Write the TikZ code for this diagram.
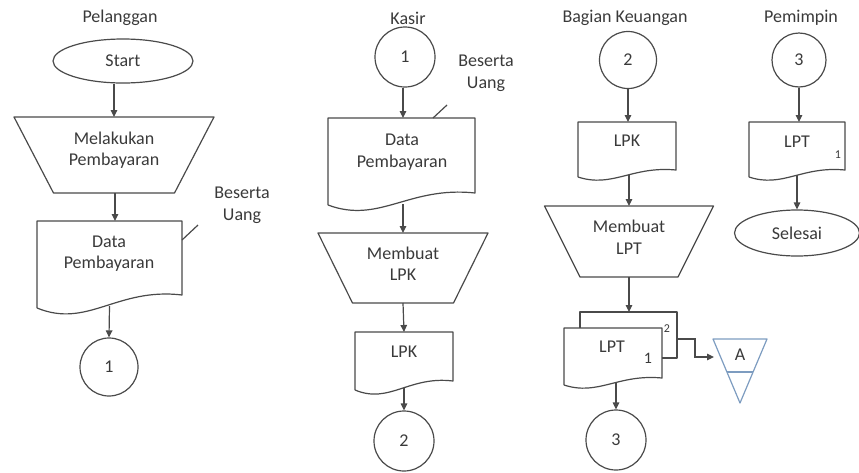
\documentclass[tikz,border=0pt]{standalone}
\usepackage{fontspec}
\setmainfont{Carlito}
\usetikzlibrary{shapes.geometric,arrows.meta,calc}
\definecolor{txtc}{HTML}{3A3A3A}
\definecolor{linec}{HTML}{4A4A4A}
\definecolor{triblue}{HTML}{7D9CC0}
\tikzset{
  txt/.style={font=\fontsize{18}{21.5}\selectfont, text=txtc, align=center, inner sep=0pt},
  smalltxt/.style={font=\fontsize{12}{14}\selectfont, text=txtc, inner sep=0pt},
  shp/.style={draw=linec, line width=1.2pt, line join=round},
  box/.style={draw=none, rectangle, inner sep=0pt, outer sep=0pt},
  arr/.style={draw=linec, line width=1.2pt, -{Triangle[length=7pt,width=6.5pt]}},
  conn/.style={draw=linec, line width=1.2pt},
  term/.style={ellipse, draw=linec, line width=1.2pt, inner sep=0pt, text=txtc, font=\fontsize{18}{21.5}\selectfont},
  conncirc/.style={circle, draw=linec, line width=1.2pt, inner sep=0pt, text=txtc, font=\fontsize{18}{21.5}\selectfont},
}
% document shape: name, left, top, right, yLeftBottom, yRightBottom
\newcommand\docshape[6]{%
  \node[box, anchor=north west, minimum width={(#4-#2)*1pt}, minimum height={(#5-#3)*1pt}] (#1) at (#2,#3) {};
  \draw[shp] (#2,#5) -- (#2,#3) -- (#4,#3) -- (#4,#6)
    .. controls ({#2+0.55*(#4-#2)},{#6-0.6*(#5-#6)}) and ({#2+0.35*(#4-#2)},{#5+1.6*(#5-#6)}) .. (#2,#5);
}
% manual operation: name, centre x, top, top width, bottom y, bottom width
\newcommand\trapshape[6]{%
  \node[box, anchor=north, minimum width={#4*1pt}, minimum height={(#5-#3)*1pt}] (#1) at (#2,#3) {};
  \draw[shp] (#1.north west) -- (#1.north east) -- ($(#1.south east)+({-(#4-#6)/2},0)$)
    -- ($(#1.south west)+({(#4-#6)/2},0)$) -- cycle;
}
\begin{document}
\begin{tikzpicture}[x=1pt,y=-1pt]
\useasboundingbox (0,0) rectangle (859,472);

% ---------- column titles
\node[txt] (h1) at (120,18) {Pelanggan};
\node[txt] (h2) at (408,18) {Kasir};
\node[txt] (h3) at (625,18) {Bagian Keuangan};
\node[txt] (h4) at (801,18) {Pemimpin};

% ---------- Pelanggan
\node[term, minimum width=140pt, minimum height=44pt] (start) at (123,61) {Start};
\trapshape{t1}{114}{117}{200}{193}{121}
\node[txt] (t1t) at (114,150) {Melakukan\\Pembayaran};
\docshape{d1}{37}{221}{182}{308}{295}
\node[txt] (d1t) at (109,253.5) {Data\\Pembayaran};
\coordinate (an1) at (198,225);
\draw[conn] ($(d1.north east)+(0,19)$) -- (an1);
\node[txt] (bu1) at (242,205.5) {Beserta\\Uang};
\node[conncirc, minimum size=58pt] (c1a) at (109,367) {1};
\draw[arr] (start.south -| t1.north) -- (t1.north);
\draw[arr] ($(t1.south)+(1,0)$) -- ($(d1.north)+(5.5,0)$);
\draw[arr] ($(d1.south)+(0,-2)$) -- (c1a.north);

% ---------- Kasir
\node[conncirc, minimum size=60pt] (c1b) at (405,57) {1};
\docshape{d2}{328}{118}{475}{205}{193}
\node[txt] (d2t) at (402,152) {Data\\Pembayaran};
\coordinate (an2) at (447,105);
\draw[conn] ($(d2.north east)+(-42,0)$) -- (an2);
\node[txt] (bu2) at (486,73.5) {Beserta\\Uang};
\trapshape{t2}{403}{233}{170}{303}{101}
\node[txt] (t2t) at (403,263.5) {Membuat\\LPK};
\docshape{d3}{355}{332}{453}{390}{381}
\node[txt] (d3t) at (404,352) {LPK};
\node[conncirc, minimum size=60pt] (c2a) at (404,441) {2};
\draw[arr] (c1b.south -| t2.north) -- (d2.north -| t2.north);
\draw[arr] ($(d2.south -| t2.north)+(0,-1)$) -- (t2.north);
\draw[arr] (t2.south) -- (d3.north);
\draw[arr] ($(d3.south)+(0,-2)$) -- (c2a.north);

% ---------- Bagian Keuangan
\node[conncirc, minimum size=57pt] (c2b) at (628,60) {2};
\docshape{d4}{578}{122}{676}{177}{170}
\node[txt] (d4t) at (627,141) {LPK};
\trapshape{t3}{629}{206}{169}{277}{98}
\node[txt] (t3t) at (629,237) {Membuat\\LPT};
% multiple document (2 copies)
\node[box, anchor=north west, minimum width=97pt, minimum height=54pt] (bk) at (580,312) {};
\draw[shp] (580,328) -- (bk.north west) -- (bk.north east) -- (677,358) -- (662,358);
\docshape{d5}{564}{328}{662}{385}{378}
\node[txt] (d5t) at (612,347) {LPT};
\node[txt, font=\fontsize{16}{18}\selectfont] (d5n1) at (648,358) {1};
\node[smalltxt] (d5n2) at (667,329) {2};
\node[conncirc, minimum size=60pt] (c3a) at (616,440) {3};
% off-page storage A
\node[box, anchor=north west, minimum width=54pt, minimum height=64pt] (tri) at (713,339) {};
\draw[draw=triblue, line width=1.2pt, line join=round] (tri.north west) -- (tri.north east) -- (tri.south) -- cycle;
\draw[draw=triblue, line width=1.2pt] (727,372) -- (753,372);
\node[txt] (trit) at (740,355) {A};
\coordinate (ain) at (714,357);
\draw[arr] (c2b.south) -- (d4.north -| c2b.south);
\draw[arr] ($(d4.south -| t3.north)+(0,-2)$) -- (t3.north);
\draw[arr] (t3.south) -- (bk.north -| t3.south);
\draw[arr] (bk.east) -- ++(18,0) |- (ain);
\draw[arr] ($(d5.south)+(3,-3)$) -- (c3a.north);

% ---------- Pemimpin
\node[conncirc, minimum size=54pt] (c3b) at (799,60) {3};
\docshape{d6}{749}{122}{845}{177}{170}
\node[txt] (d6t) at (797,142) {LPT};
\node[smalltxt] (d6n) at (838,155) {1};
\node[term, minimum width=125pt, minimum height=46pt] (stop) at (797,233) {Selesai};
\draw[arr] (c3b.south) -- (d6.north -| c3b.south);
\draw[arr] ($(d6.south)+(0,-2)$) -- (stop.north);
\end{tikzpicture}
\end{document}
